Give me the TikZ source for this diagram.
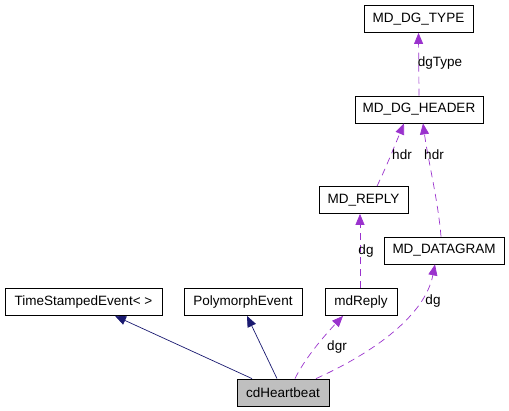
\documentclass[tikz,border=0pt]{standalone}
\usepackage{fontspec}
\setmainfont{Liberation Sans}
\usetikzlibrary{arrows.meta, positioning}
\definecolor{inhcol}{HTML}{191970}
\definecolor{usecol}{HTML}{9A32CD}

\begin{document}
\begin{tikzpicture}[
  x=1pt, y=-1pt,
  font=\fontsize{13.5}{15}\selectfont,
  cls/.style={draw, rectangle, line width=0.8pt, minimum height=27pt,
              inner sep=0pt},
  inh/.style={-{Triangle[length=11pt, width=9pt]}, inhcol, line width=0.7pt},
  use/.style={-{Triangle[length=11pt, width=9pt]}, usecol, line width=0.7pt,
              dash pattern=on 7pt off 5pt},
  lab/.style={inner sep=0pt}
]
\useasboundingbox (0,0) rectangle (509,411);

% Classes
\node[cls, minimum width=109pt] (type) at (418.5,19) {MD\_DG\_TYPE};
\node[cls, minimum width=128pt] (hdr) at (419,109.5) {MD\_DG\_HEADER};
\node[cls, minimum width=89pt] (reply) at (363.5,200) {MD\_REPLY};
\node[cls, minimum width=120pt] (dgram) at (444,250.5) {MD\_DATAGRAM};
\node[cls, minimum width=157pt] (tse) at (83.5,302) {TimeStampedEvent< >};
\node[cls, minimum width=118pt] (poly) at (243,302) {PolymorphEvent};
\node[cls, minimum width=72pt] (mdr) at (361,302) {mdReply};
\node[cls, minimum width=92pt, fill=black!25] (cdh) at (283,392.5) {cdHeartbeat};

% Inheritance
\draw[inh] ([xshift=-31pt]cdh.north) -- ([xshift=31.5pt]tse.south);
\draw[inh] ([xshift=-6pt]cdh.north) -- ([xshift=4pt]poly.south);

% Usage
\draw[use] ([xshift=12pt]cdh.north) .. controls (305,358) and (325,335) ..
  ([xshift=-18pt]mdr.south);
\draw[use] ([xshift=33pt]cdh.north) .. controls (375,352) and (425,315) ..
  ([xshift=-9pt]dgram.south);
\draw[use] ([xshift=-1pt]mdr.north) -- ([xshift=-3.5pt]reply.south);
\draw[use] ([xshift=13.5pt]reply.north) .. controls (385,170) and (395,145) ..
  ([xshift=-15pt]hdr.south);
\draw[use] ([xshift=-3pt]dgram.north) .. controls (438,200) and (428,160) ..
  ([xshift=4pt]hdr.south);
\draw[use] (hdr.north) -- (type.south);

% Labels
\node[lab] (ldgr) at (337,347) {dgr};
\node[lab] (ldg) at (433,301) {dg};
\node[lab] (ldgm) at (366,251) {dg};
\node[lab] (lhdra) at (402,155) {hdr};
\node[lab] (lhdrb) at (434,155) {hdr};
\node[lab] (ltype) at (440,63) {dgType};

\end{tikzpicture}
\end{document}
